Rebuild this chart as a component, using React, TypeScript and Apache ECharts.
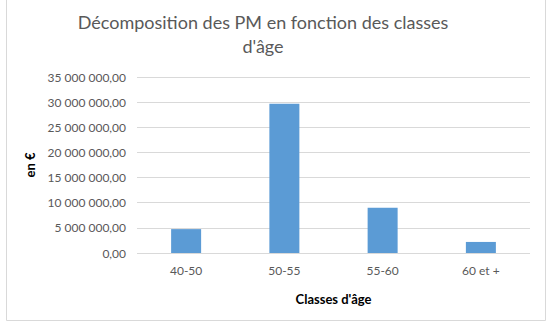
import React, { useEffect, useRef } from "react";
import * as echarts from "echarts";

const categories = ["40-50", "50-55", "55-60", "60 et +"];
const values = [4750000, 29700000, 9000000, 2200000];
const titleText = "Décomposition des PM en fonction des classes\nd'âge";
const yAxisName = "en €";
const xAxisName = "Classes d'âge";

function fmt(v: number): string {
  const s = Math.round(v).toString().replace(/\B(?=(\d{3})+(?!\d))/g, " ");
  return s + ",00";
}

export default function App() {
  const ref = useRef<HTMLDivElement>(null);
  useEffect(() => {
    document.body.style.margin = "0";
    const chart = echarts.init(ref.current!, undefined, { renderer: "svg" });
    const font = "Lato";
    chart.setOption({
      animation: false,
      backgroundColor: "#ffffff",
      textStyle: { fontFamily: font },
      title: {
        text: titleText,
        left: 258,
        top: 5,
        textAlign: "center",
        textStyle: { fontFamily: font, fontSize: 18, fontWeight: "normal", color: "#595959", lineHeight: 24 },
      },
      graphic: [
        {
          type: "rect",
          shape: { x: 6.5, y: -1, width: 539, height: 321.5 },
          style: { fill: "none", stroke: "#d9d9d9", lineWidth: 1 },
          silent: true,
        },
      ],
      grid: { left: 137, right: 22, top: 77, bottom: 73 },
      xAxis: {
        type: "category",
        data: categories,
        name: xAxisName,
        nameLocation: "middle",
        nameGap: 39,
        nameTextStyle: { fontFamily: font, fontSize: 13, fontWeight: "bold", color: "#000" },
        axisLine: { show: false },
        axisTick: { show: false },
        axisLabel: { fontFamily: font, fontSize: 12, color: "#595959", margin: 11 },
      },
      yAxis: {
        type: "value",
        min: 0,
        max: 35000000,
        interval: 5000000,
        name: yAxisName,
        nameLocation: "middle",
        nameGap: 89,
        nameTextStyle: { fontFamily: font, fontSize: 13, fontWeight: "bold", color: "#000" },
        axisLine: { show: false },
        axisTick: { show: false },
        splitLine: { lineStyle: { color: "#d9d9d9", width: 1 } },
        axisLabel: { fontFamily: font, fontSize: 12, color: "#595959", margin: 11, formatter: (v: number) => fmt(v) },
      },
      series: [
        {
          type: "bar",
          data: values,
          barWidth: 30,
          itemStyle: { color: "#5b9bd5" },
        },
      ],
    });
    return () => chart.dispose();
  }, []);
  return <div ref={ref} style={{ width: 552, height: 326 }} />;
}
